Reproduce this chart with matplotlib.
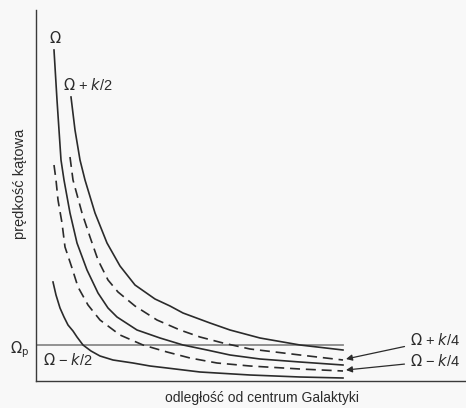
import matplotlib
matplotlib.use("Agg")
import matplotlib.pyplot as plt

plt.rcParams['font.family'] = ['Liberation Sans Narrow', 'Liberation Sans', 'DejaVu Sans']

# curves of angular velocity vs. distance (arbitrary units)
x_plus_half = [35, 39, 44, 49, 59, 71, 84, 99, 119, 134, 147, 174, 194, 224, 264, 307]
y_plus_half = [284, 251, 221, 201, 168, 138, 115, 96, 82, 75, 68, 58, 51, 43, 36, 31]

x_plus_quarter = [34, 37, 46, 54, 62, 72, 82, 99, 121, 144, 164, 187, 214, 264, 307]
y_plus_quarter = [224, 201, 168, 144, 121, 101, 89, 75, 61, 51, 44, 38, 32, 26, 21]

x_omega = [18, 21, 25, 28, 34, 41, 51, 62, 72, 81, 101, 124, 147, 171, 194, 224, 264, 307]
y_omega = [331, 281, 221, 201, 168, 138, 111, 88, 73, 64, 51, 43, 36, 31, 26, 22, 19, 16]

x_minus_quarter = [18, 20, 22, 26, 29, 36, 42, 52, 64, 84, 107, 131, 154, 181, 214, 264, 307]
y_minus_quarter = [216, 201, 181, 158, 134, 113, 94, 76, 61, 46, 36, 29, 23, 18, 15, 12, 10]

x_minus_half = [17, 20, 24, 28, 32, 37, 41, 47, 55, 64, 77, 97, 114, 131, 164, 214, 264, 307]
y_minus_half = [99, 86, 73, 64, 56, 50, 44, 36, 30, 25, 21, 18, 15, 13, 9, 6, 4, 3]

omega_p = 36
omega_p_end = 307

ink = '#2b2b2b'

fig = plt.figure(figsize=(4.66, 4.08), dpi=100, facecolor='#f8f8f8')
ax = fig.add_axes([36/466, 27/408, 430/466, 371/408])
ax.set_facecolor('#f8f8f8')
ax.set_xlim(0, 430)
ax.set_ylim(0, 371)

for s in ['top', 'right']:
    ax.spines[s].set_visible(False)
for s in ['left', 'bottom']:
    ax.spines[s].set_color('#3a3a3a')
    ax.spines[s].set_linewidth(1.0)
ax.set_xticks([])
ax.set_yticks([])

# pattern speed line
ax.plot([0, omega_p_end], [omega_p, omega_p], color='#8a8a8a', lw=1.3)

lw = 1.2
ax.plot(x_omega, y_omega, color=ink, lw=lw)
ax.plot(x_plus_half, y_plus_half, color=ink, lw=lw)
ax.plot(x_minus_half, y_minus_half, color=ink, lw=lw)
ax.plot(x_plus_quarter, y_plus_quarter, color=ink, lw=lw, dashes=(6, 3.5))
ax.plot(x_minus_quarter, y_minus_quarter, color=ink, lw=lw, dashes=(6, 3.5))

fs = 10.5
ax.text(x_omega[0] + 1, y_omega[0] + 12, r'$\Omega$', fontsize=fs, color=ink,
        ha='center', va='center', math_fontfamily='dejavusans')
ax.text(27, 296, r'$\Omega$ + $k$/2', fontsize=fs, color=ink, ha='left', va='center',
        math_fontfamily='dejavusans')
ax.text(7, 21, r'$\Omega$ − $k$/2', fontsize=fs, color=ink, ha='left', va='center',
        math_fontfamily='dejavusans')
ax.text(-16, 31, r'$\Omega_{\rm p}$', fontsize=fs, color=ink, ha='center', va='center',
        math_fontfamily='dejavusans')

ax.annotate(r'$\Omega$ + $k$/4', xy=(x_plus_quarter[-1] + 3, y_plus_quarter[-1] + 1),
            xytext=(374, 41), fontsize=fs, color=ink, ha='left', va='center',
            arrowprops=dict(arrowstyle='-|>', color=ink, lw=0.9, mutation_scale=9,
                            shrinkA=2, shrinkB=0))
ax.annotate(r'$\Omega$ − $k$/4', xy=(x_minus_quarter[-1] + 3, y_minus_quarter[-1] + 1),
            xytext=(374, 20), fontsize=fs, color=ink, ha='left', va='center',
            arrowprops=dict(arrowstyle='-|>', color=ink, lw=0.9, mutation_scale=9,
                            shrinkA=2, shrinkB=0))

ax.set_xlabel('odległość od centrum Galaktyki', fontsize=10, color=ink)
ax.xaxis.set_label_coords(0.526, -0.028)
ax.set_ylabel('prędkość kątowa', fontsize=fs, color=ink)
ax.yaxis.set_label_coords(-0.02, 0.53)

fig.savefig('out.png', dpi=100, facecolor=fig.get_facecolor())
